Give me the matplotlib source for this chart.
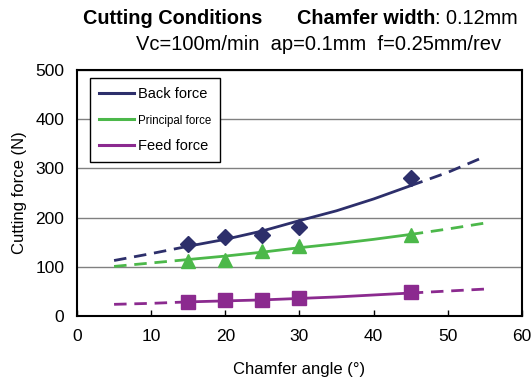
import matplotlib
matplotlib.use("Agg")
import matplotlib.pyplot as plt
from matplotlib.lines import Line2D
import numpy as np

plt.rcParams['font.family'] = ['Liberation Sans', 'DejaVu Sans']

angles = [15, 20, 25, 30, 45]
back_force = [147, 161, 164, 181, 280]
principal_force = [113, 115, 133, 143, 165]
feed_force = [29, 32, 32, 36, 49]

trend_x = [5, 10, 15, 20, 25, 30, 35, 40, 45, 50, 55]
back_trend = [113, 127, 142, 156, 173, 194, 214, 238, 265, 292, 324]
principal_trend = [101, 108, 115, 122, 130, 139, 147, 156, 166, 177, 189]
feed_trend = [24, 26, 29, 31, 33, 36, 39, 43, 47, 51, 55]

series = [
    ("Back force", back_force, back_trend, "#2d2f6b", "D", 8.5),
    ("Principal force", principal_force, principal_trend, "#4cb84a", "^", 10),
    ("Feed force", feed_force, feed_trend, "#8b2a8f", "s", 10),
]

fig = plt.figure(figsize=(5.31, 3.8), dpi=100)
ax = fig.add_axes([0.145, 0.168, 0.838, 0.648])

tx = np.array(trend_x)
for name, vals, trend, col, mk, ms in series:
    tr = np.array(trend)
    inner = (tx >= 15) & (tx <= 45)
    lo = tx <= 15
    hi = tx >= 45
    ax.plot(tx[inner], tr[inner], color=col, lw=2.0, zorder=3)
    ax.plot(tx[lo], tr[lo], color=col, lw=2.0, ls=(0, (4.5, 2.8)), zorder=3)
    ax.plot(tx[hi], tr[hi], color=col, lw=2.0, ls=(0, (4.5, 2.8)), zorder=3)
    ax.plot(angles, vals, ls='none', marker=mk, ms=ms, color=col, zorder=4)

ax.set_xlim(0, 60)
ax.set_ylim(0, 500)
ax.set_xticks(range(0, 61, 10))
ax.set_yticks(range(0, 501, 100))
ax.tick_params(axis='both', labelsize=12.5, direction='in', length=4, width=1)
ax.tick_params(axis='x', pad=9)
ax.tick_params(axis='y', length=0, pad=9)
ax.yaxis.grid(True, color='#808080', lw=1)
ax.set_axisbelow(True)
for s in ax.spines.values():
    s.set_linewidth(1.5)

ax.set_xlabel("Chamfer angle (°)", fontsize=12, labelpad=13)
ax.set_ylabel("Cutting force (N)", fontsize=12, labelpad=6)

handles = [Line2D([0], [0], color=c, lw=2.2) for _, _, _, c, _, _ in series]
leg = ax.legend(handles, [s[0] for s in series], loc='upper left',
                bbox_to_anchor=(0.013, 0.995), fancybox=False, framealpha=1,
                edgecolor='black', fontsize=10.5, handlelength=2.4,
                handletextpad=0.3, borderpad=0.6, labelspacing=0.85)
leg.get_frame().set_linewidth(1.0)
leg.get_texts()[1].set_fontsize(8.3)

fig.text(0.157, 0.952, "Cutting Conditions", fontsize=14.3, fontweight='bold', ha='left', va='center')
t = fig.text(0.559, 0.952, "Chamfer width", fontsize=14.3, fontweight='bold', ha='left', va='center')
fig.canvas.draw()
bb = t.get_window_extent()
x1 = bb.x1 / fig.bbox.width
fig.text(x1, 0.952, ": 0.12mm", fontsize=14.3, ha='left', va='center')
fig.text(0.256, 0.882, "Vc=100m/min  ap=0.1mm  f=0.25mm/rev", fontsize=14.5, ha='left', va='center')

fig.savefig("out.png", dpi=100)
